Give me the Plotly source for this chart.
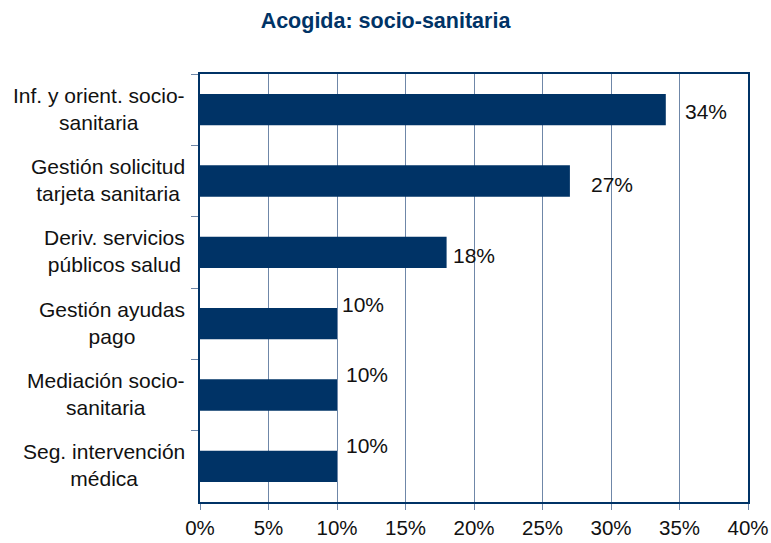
import plotly.graph_objects as go

# Chart data
categories = [
    "Inf. y orient. socio-<br>sanitaria",
    "Gestión solicitud<br>tarjeta sanitaria",
    "Deriv. servicios<br>públicos salud",
    "Gestión ayudas<br>pago",
    "Mediación socio-<br>sanitaria",
    "Seg. intervención<br>médica",
]
values = [34, 27, 18, 10, 10, 10]
value_labels = ["34%", "27%", "18%", "10%", "10%", "10%"]
tick_vals = [0, 5, 10, 15, 20, 25, 30, 35, 40]
tick_text = ["0%", "5%", "10%", "15%", "20%", "25%", "30%", "35%", "40%"]

# Per-label nudges for the value labels (pixels)
label_dx = [17, 19, 4, 3, 7, 7]
label_dy = [-2, -3, -3, 19, 21, 21]

NAVY = "#003366"
GRID = "#6f87a8"
FONT = "Liberation Sans, Arial, sans-serif"

fig = go.Figure(
    go.Bar(
        x=values,
        y=categories,
        orientation="h",
        marker=dict(color=NAVY, line=dict(width=0)),
        width=0.44,
        hoverinfo="skip",
    )
)

for cat, v, txt, dx, dy in zip(categories, values, value_labels, label_dx, label_dy):
    fig.add_annotation(
        x=v, y=cat, xref="x", yref="y",
        text=txt, showarrow=False,
        xanchor="left", yanchor="middle",
        xshift=dx, yshift=dy,
        font=dict(family=FONT, size=21, color="#111111"),
    )

# Category labels, centred line by line
for cat in categories:
    fig.add_annotation(
        x=0, y=cat, xref="paper", yref="y",
        text=cat, showarrow=False,
        xanchor="right", yanchor="middle", align="center",
        xshift=-13, yshift=1,
        font=dict(family=FONT, size=21, color="#111111"),
    )

fig.update_layout(
    width=771, height=543,
    margin=dict(l=200, r=23, t=74, b=41),
    paper_bgcolor="white", plot_bgcolor="white",
    showlegend=False,
    title=dict(
        text="<b>Acogida: socio-sanitaria</b>",
        x=0.5, xanchor="center", y=0.962, yanchor="middle",
        font=dict(family=FONT, size=21.5, color=NAVY),
    ),
    xaxis=dict(
        range=[0, 40],
        tickmode="array", tickvals=tick_vals, ticktext=tick_text,
        showgrid=True, gridcolor=GRID, gridwidth=1,
        showline=True, linecolor=NAVY, linewidth=2, mirror=True,
        ticks="outside", ticklen=6, tickcolor=GRID, tickwidth=1,
        tickfont=dict(family=FONT, size=20.5, color="#111111"),
        zeroline=False, fixedrange=True, automargin=False,
        ticklabeloverflow="allow",
    ),
    yaxis=dict(
        autorange="reversed",
        showticklabels=False,
        showgrid=False,
        showline=True, linecolor=NAVY, linewidth=2, mirror=True,
        ticks="outside", ticklen=7, tickcolor=GRID, tickwidth=1,
        tickson="boundaries",
        fixedrange=True, automargin=False,
    ),
)

fig.write_html("out.html")
